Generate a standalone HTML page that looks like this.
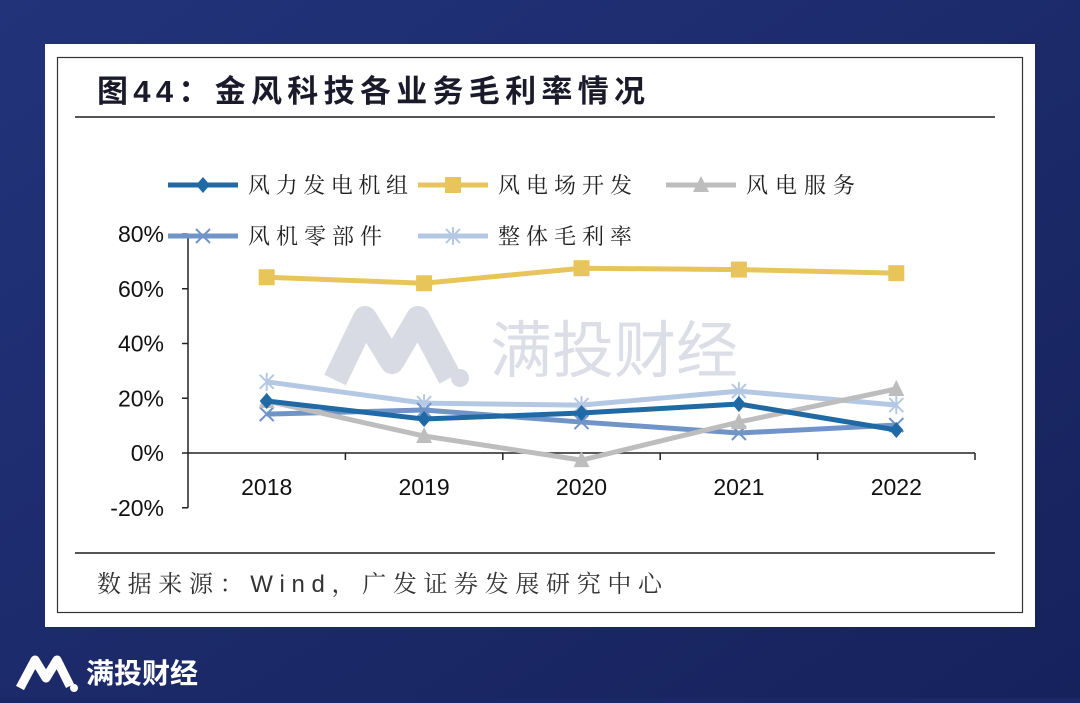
<!DOCTYPE html>
<html><head><meta charset="utf-8"><style>
body{margin:0;width:1080px;height:698px;overflow:hidden;background:#1b2868;font-family:"Liberation Sans","Noto Sans CJK SC",sans-serif;}
</style></head><body>
<svg width="1080" height="698" viewBox="0 0 1080 698" xmlns="http://www.w3.org/2000/svg">
<defs><linearGradient id="bg" x1="0" y1="0" x2="1" y2="1"><stop offset="0" stop-color="#22337a"/><stop offset="1" stop-color="#16225c"/></linearGradient></defs>
<rect width="1080" height="698" fill="url(#bg)"/>
<rect x="45" y="44" width="990" height="583" fill="#fff"/>
<rect x="57.5" y="57.5" width="965" height="555" fill="#fff" stroke="#333" stroke-width="1.2"/>
<text x="97" y="102" font-size="31" font-weight="bold" fill="#1a1a2a" textLength="548" lengthAdjust="spacing" font-family="Liberation Sans,'Noto Sans CJK SC',sans-serif">图44：金风科技各业务毛利率情况</text>
<line x1="75" y1="117" x2="995" y2="117" stroke="#555" stroke-width="2"/>
<line x1="75" y1="553" x2="995" y2="553" stroke="#555" stroke-width="2"/>
<text x="97" y="592" font-size="24" fill="#333" textLength="565" lengthAdjust="spacing" font-family="'Liberation Sans','Noto Serif CJK SC',serif">数据来源：Wind，广发证券发展研究中心</text>
<text x="490" y="372" font-size="62" fill="#d8dbe4" font-family="'Liberation Sans','Noto Sans CJK SC',sans-serif" opacity="0.9">满投财经</text>
<path d="M335 380 L365 318 L392 362 L418 318 L450 378" stroke="#d8dbe4" stroke-width="24" fill="none" stroke-linejoin="round"/>
<circle cx="460" cy="378" r="9" fill="#d8dbe4"/>
<g id="chart"></g>
<path d="M20 688 L35 660 L46 678 L57 660 L70 686" stroke="#fff" stroke-width="9" fill="none" stroke-linejoin="round"/>
<circle cx="74" cy="688" r="4" fill="#fff"/>
<text x="86" y="683" font-size="28" font-weight="bold" fill="#fff">满投财经</text>
</svg>
<script>
const categories=["2018","2019","2020","2021","2022"];
const yTicks=[-20,0,20,40,60,80];
const sTurbine=[19,12.4,14.6,17.9,8.4];
const sFarm=[64.2,62,67.5,67,65.7];
const sService=[19,6.2,-2.6,11.3,23.4];
const sParts=[14.2,15.7,11.3,7.3,10.2];
const sOverall=[26,18.2,17.5,22.6,17.5];
const seriesNames=["风力发电机组","风电场开发","风电服务","风机零部件","整体毛利率"];
const NS="http://www.w3.org/2000/svg";
const g=document.getElementById('chart');
const x0=188,x1=975,yTop=234,yZero=453;
function y(v){return yZero-(v/80)*(yZero-yTop);}
const step=(x1-x0)/categories.length;
function x(i){return x0+step*(i+0.5);}
function el(t,a){const e=document.createElementNS(NS,t);for(const k in a)e.setAttribute(k,a[k]);g.appendChild(e);return e;}
let e;
e=el('line',{x1:x0,y1:y(80),x2:x0,y2:y(-20),stroke:'#222','stroke-width':1.5});


yTicks.forEach(v=>{
 let t=el('line',{x1:x0-6,y1:y(v),x2:x0,y2:y(v),stroke:'#222','stroke-width':1.5});
 
 
 let l=el('text',{x:x0-24,y:y(v)+8,'font-size':23,'text-anchor':'end',fill:'#111'});l.textContent=v+'%';
 
 
});
e=el('line',{x1:x0,y1:yZero,x2:x1,y2:yZero,stroke:'#222','stroke-width':1.5});


categories.forEach((c,i)=>{
 let t=el('line',{x1:x0+step*(i+1),y1:yZero,x2:x0+step*(i+1),y2:yZero+7,stroke:'#222','stroke-width':1.5});
 
 
 let l=el('text',{x:x(i),y:yZero+42,'font-size':23,'text-anchor':'middle',fill:'#111'});l.textContent=c;
 
 
});
function marker(type,cx,cy,col){
 let m;
 if(type==='diamond')m=el('path',{d:`M${cx} ${cy-8}L${cx+7} ${cy}L${cx} ${cy+8}L${cx-7} ${cy}Z`,fill:col});
 else if(type==='square')m=el('rect',{x:cx-8,y:cy-8,width:16,height:16,fill:col});
 else if(type==='tri')m=el('path',{d:`M${cx} ${cy-9}L${cx+8} ${cy+7}L${cx-8} ${cy+7}Z`,fill:col});
 else if(type==='x')m=el('path',{d:`M${cx-7} ${cy-7}L${cx+7} ${cy+7}M${cx+7} ${cy-7}L${cx-7} ${cy+7}`,stroke:col,'stroke-width':2});
 else m=el('path',{d:`M${cx-7} ${cy-7}L${cx+7} ${cy+7}M${cx+7} ${cy-7}L${cx-7} ${cy+7}M${cx} ${cy-9}L${cx} ${cy+9}`,stroke:col,'stroke-width':2});
 return m;
}
const cfg=[[sOverall,'#b4c8e4','star'],[sParts,'#7094c8','x'],[sService,'#bdbdbd','tri'],[sTurbine,'#1f6aa5','diamond'],[sFarm,'#e8c55a','square']];
const nameIdx=[4,3,2,0,1];
cfg.forEach((c,k)=>{
 let p=el('polyline',{points:c[0].map((v,i)=>x(i)+','+y(v)).join(' '),fill:'none',stroke:c[1],'stroke-width':5,'stroke-linejoin':'round'});
 
 
 c[0].forEach((v,i)=>{let m=marker(c[2],x(i),y(v),c[1]);
  
  });
});
const legPos=[[168,185,3,160],[418,185,4,134],[666,185,2,109],[168,236,1,134],[418,236,0,134]];
legPos.forEach(lp=>{
 const c=cfg[lp[2]];
 let l=el('line',{x1:lp[0],y1:lp[1],x2:lp[0]+70,y2:lp[1],stroke:c[1],'stroke-width':5});
 
 
 let m=marker(c[2],lp[0]+35,lp[1],c[1]);
 
 
 let t=el('text',{x:lp[0]+80,y:lp[1]+8,'font-size':22,fill:'#222','font-family':"'Liberation Serif','Noto Serif CJK SC',serif",textLength:lp[3],lengthAdjust:'spacing'});
 t.textContent=seriesNames[nameIdx[lp[2]]];
 
 
});
</script>
</body></html>
